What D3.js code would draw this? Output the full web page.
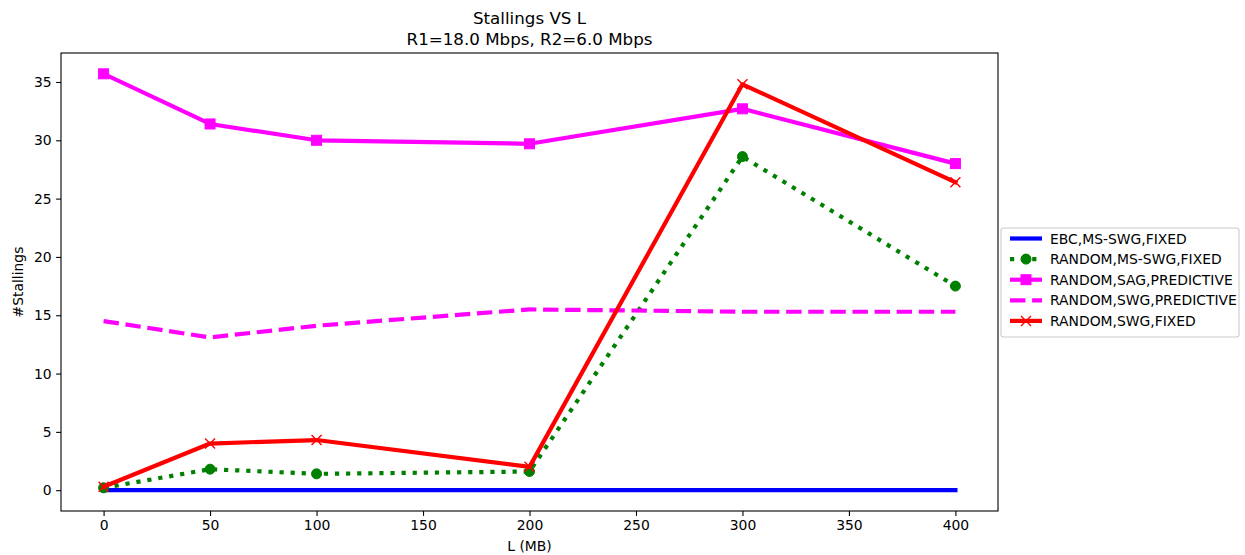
<!DOCTYPE html>
<html>
<head>
<meta charset="utf-8">
<script src="https://cdn.jsdelivr.net/npm/d3@7"></script>
<style>
  html, body { margin: 0; padding: 0; background: #fff; }
  svg { display: block; font-family: "DejaVu Sans", sans-serif; }
</style>
</head>
<body>
<svg id="chart" width="1245" height="555"></svg>
<script>
// ---- data ----
const xValues = [0, 50, 100, 200, 300, 400];
const ebcMsSwgFixed = [0, 0, 0, 0, 0, 0];
const randomMsSwgFixed = [0.2, 1.8, 1.4, 1.6, 28.6, 17.5];
const randomSagPredictive = [35.7, 31.4, 30.0, 29.7, 32.7, 28.0];
const randomSwgPredictive = [14.5, 13.1, 14.1, 15.5, 15.3, 15.3];
const randomSwgFixed = [0.3, 4.0, 4.3, 2.0, 34.8, 26.4];
const seriesNames = ["EBC,MS-SWG,FIXED", "RANDOM,MS-SWG,FIXED", "RANDOM,SAG,PREDICTIVE", "RANDOM,SWG,PREDICTIVE", "RANDOM,SWG,FIXED"];
const xTicks = [0, 50, 100, 150, 200, 250, 300, 350, 400];
const yTicks = [0, 5, 10, 15, 20, 25, 30, 35];
const titleLines = ["Stallings VS L", "R1=18.0 Mbps, R2=6.0 Mbps"];
const xLabel = "L (MB)";
const yLabel = "#Stallings";

// ---- styles ----
const styles = [
  { color: "#0000ff", dash: null, marker: null },
  { color: "#008000", dash: "4.2,6.9", marker: "circle" },
  { color: "#ff00ff", dash: null, marker: "square" },
  { color: "#ff00ff", dash: "15.4,6.7", marker: null },
  { color: "#ff0000", dash: null, marker: "x" }
];
const allSeries = [ebcMsSwgFixed, randomMsSwgFixed, randomSagPredictive, randomSwgPredictive, randomSwgFixed];

const svg = d3.select("#chart");
const plot = { left: 61, top: 53, width: 937, height: 458 };

const xExt = d3.extent(xValues);
const xPad = (xExt[1] - xExt[0]) * 0.05;
const allY = allSeries.flat();
const yExt = d3.extent(allY);
const yPad = (yExt[1] - yExt[0]) * 0.05;

const x = d3.scaleLinear().domain([xExt[0] - xPad, xExt[1] + xPad]).range([plot.left, plot.left + plot.width]);
const y = d3.scaleLinear().domain([yExt[0] - yPad, yExt[1] + yPad]).range([plot.top + plot.height, plot.top]);

const fs = 13.9;
const lw = 4.2;

// axes
const xAxis = d3.axisBottom(x).tickValues(xTicks).tickSize(4.9).tickPadding(4).tickSizeOuter(0).tickFormat(d3.format("d"));
const gx = svg.append("g").attr("transform", `translate(0,${plot.top + plot.height})`).call(xAxis);
const yAxis = d3.axisLeft(y).tickValues(yTicks).tickSize(4.9).tickPadding(4.5).tickSizeOuter(0).tickFormat(d3.format("d"));
const gy = svg.append("g").attr("transform", `translate(${plot.left},0)`).call(yAxis);
[gx, gy].forEach(g => {
  g.select(".domain").remove();
  g.selectAll(".tick line").attr("stroke", "#000").attr("stroke-width", 1.1);
  g.selectAll(".tick text").attr("fill", "#000").style("font-size", fs + "px").style("font-family", "DejaVu Sans");
});

// clip
svg.append("clipPath").attr("id", "clip").append("rect")
  .attr("x", plot.left).attr("y", plot.top).attr("width", plot.width).attr("height", plot.height);

const line = d3.line().x((d, i) => x(xValues[i])).y(d => y(d));
const gData = svg.append("g").attr("clip-path", "url(#clip)");

function drawMarker(g, type, cx, cy, color, size) {
  if (type === "circle") {
    g.append("circle").attr("cx", cx).attr("cy", cy).attr("r", size / 2).attr("fill", color).attr("stroke", color).attr("stroke-width", 1);
  } else if (type === "square") {
    g.append("rect").attr("x", cx - size / 2).attr("y", cy - size / 2).attr("width", size).attr("height", size)
      .attr("fill", color).attr("stroke", color).attr("stroke-width", 1);
  } else if (type === "x") {
    const h = size / 2;
    g.append("path").attr("d", `M${cx - h},${cy - h}L${cx + h},${cy + h}M${cx - h},${cy + h}L${cx + h},${cy - h}`)
      .attr("stroke", color).attr("stroke-width", 1.4).attr("fill", "none");
  }
}

allSeries.forEach((vals, si) => {
  const st = styles[si];
  const g = gData.append("g");
  g.append("path").datum(vals).attr("d", line).attr("fill", "none")
    .attr("stroke", st.color).attr("stroke-width", lw)
    .attr("stroke-dasharray", st.dash).attr("stroke-linejoin", "round").attr("stroke-linecap", st.dash ? "butt" : "square");
  if (st.marker) {
    vals.forEach((v, i) => drawMarker(g, st.marker, x(xValues[i]), y(v), st.color, 10));
  }
});

// frame
svg.append("rect").attr("x", plot.left).attr("y", plot.top).attr("width", plot.width).attr("height", plot.height)
  .attr("fill", "none").attr("stroke", "#000").attr("stroke-width", 1.1);

// titles
svg.append("text").attr("x", plot.left + plot.width / 2).attr("y", 24).attr("text-anchor", "middle")
  .style("font-size", "16.7px").attr("fill", "#000").text(titleLines[0]);
svg.append("text").attr("x", plot.left + plot.width / 2).attr("y", 45).attr("text-anchor", "middle")
  .style("font-size", "16.7px").attr("fill", "#000").text(titleLines[1]);

svg.append("text").attr("x", plot.left + plot.width / 2).attr("y", 551).attr("text-anchor", "middle")
  .style("font-size", fs + "px").attr("fill", "#000").text(xLabel);
svg.append("text").attr("transform", `translate(23,${plot.top + plot.height / 2}) rotate(-90)`).attr("text-anchor", "middle")
  .style("font-size", fs + "px").attr("fill", "#000").text(yLabel);

// legend
const lg = svg.append("g");
const lgBox = { x: 1001, y: 228, w: 238, h: 109 };
lg.append("rect").attr("x", lgBox.x).attr("y", lgBox.y).attr("width", lgBox.w).attr("height", lgBox.h)
  .attr("rx", 2.8).attr("fill", "#fff").attr("fill-opacity", 0.8).attr("stroke", "#cccccc").attr("stroke-width", 1.1);
seriesNames.forEach((name, i) => {
  const cy = 238.5 + i * 20.6;
  const st = styles[i];
  lg.append("line").attr("x1", 1010).attr("x2", 1042).attr("y1", cy).attr("y2", cy)
    .attr("stroke", st.color).attr("stroke-width", lw).attr("stroke-dasharray", st.dash);
  if (st.marker) drawMarker(lg, st.marker, 1026, cy, st.color, 10);
  lg.append("text").attr("x", 1050).attr("y", cy).attr("dy", "0.36em")
    .style("font-size", fs + "px").attr("fill", "#000").text(name);
});
</script>
</body>
</html>
